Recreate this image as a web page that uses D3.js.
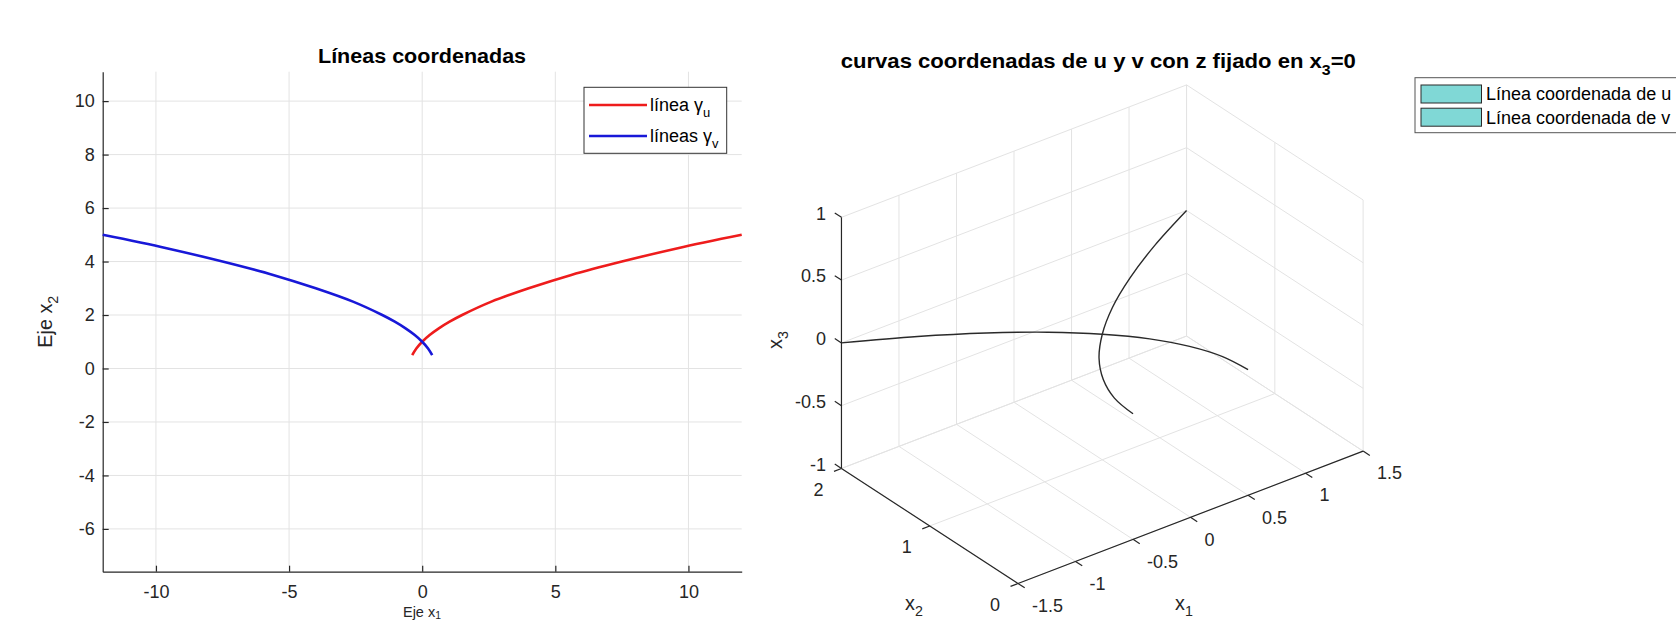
<!DOCTYPE html>
<html><head><meta charset="utf-8">
<script src="https://cdn.jsdelivr.net/npm/d3@7"></script>
<style>
body{margin:0;background:#fff}
svg{display:block}
text{font-family:'Liberation Sans',Arial,Helvetica,sans-serif}
</style>
</head><body>
<script>
// ---------- data ----------
const xLim2d = [-12, 12];
const yLim2d = [-7.6, 11.1];
const xTicks2d = [-10, -5, 0, 5, 10];
const yTicks2d = [-6, -4, -2, 0, 2, 4, 6, 8, 10];
// línea γu (red): [x, x2]
const lineU = [[-0.375,0.5],[-0.22,0.75],[0,1],[0.28,1.25],[0.625,1.5],[1.03,1.75],[1.5,2],[2.6,2.5],[4,3],[5.6,3.5],[7.5,4],[9.6,4.5],[12,5]];
// líneas γv (blue)
const lineV = [[0.375,0.5],[0.22,0.75],[0,1],[-0.28,1.25],[-0.625,1.5],[-1.03,1.75],[-1.5,2],[-2.6,2.5],[-4,3],[-5.6,3.5],[-7.5,4],[-9.6,4.5],[-12,5]];
const legend2dText = ["línea γ", "líneas γ"];
const legend2dSub = ["u", "v"];

const x1Lim = [-1.5, 1.5], x2Lim = [0, 2], x3Lim = [-1, 1];
const x1Ticks = [-1.5, -1, -0.5, 0, 0.5, 1, 1.5];
const x1TickLabels = ["-1.5", "-1", "-0.5", "0", "0.5", "1", "1.5"];
const x2Ticks = [0, 1, 2];
const x2TickLabels = ["0", "1", "2"];
const x3Ticks = [-1, -0.5, 0, 0.5, 1];
const x3TickLabels = ["-1", "-0.5", "0", "0.5", "1"];
// 3D coordinate curves [x1, x2, x3]
const curveU3 = [[-0.5,0,0],[-0.47,0.25,0],[-0.375,0.5,0],[-0.22,0.75,0],[0,1,0],[0.28,1.25,0],[0.625,1.5,0],[1.03,1.75,0],[1.5,2,0]];
const curveV3 = [[0.5,0,0],[0.47,0.25,0],[0.375,0.5,0],[0.22,0.75,0],[0,1,0],[-0.28,1.25,0],[-0.625,1.5,0],[-1.03,1.75,0],[-1.5,2,0]];
const legend3dText = ["Línea coordenada de u", "Línea coordenada de v"];

// ---------- drawing ----------
const W = 1676, H = 621;
const AX = "#262626", GRID = "#e3e3e3";
const svg = d3.select("body").append("svg").attr("width", W).attr("height", H);

function subText(g, x, y, main, sub, fs, opts = {}) {
  const t = g.append("text").attr("x", x).attr("y", y)
    .attr("font-size", fs).attr("fill", opts.fill || AX)
    .attr("text-anchor", opts.anchor || "start");
  if (opts.weight) t.attr("font-weight", opts.weight);
  if (opts.rotate) t.attr("transform", `rotate(${opts.rotate},${x},${y})`);
  t.append("tspan").text(main);
  if (sub) {
    const sh = opts.subShift != null ? opts.subShift : fs * 0.32;
    t.append("tspan").attr("font-size", fs * 0.72).attr("dy", sh).text(sub);
    if (opts.after) t.append("tspan").attr("dy", -sh).text(opts.after);
  }
  return t;
}
function fitWidth(t, x0, width) {
  const w = t.node().getBBox().width;
  const k = width / w;
  const prev = t.attr("transform") || "";
  t.attr("transform", `translate(${x0},0) scale(${k},1) translate(${-x0},0) ${prev}`);
}

// ===== Left 2D plot =====
const xL = d3.scaleLinear().domain(xLim2d).range([102.7, 741.7]);
const yL = d3.scaleLinear().domain(yLim2d).range([571.7, 71.7]);
const gL = svg.append("g");

gL.append("g").selectAll("line").data(xTicks2d).join("line")
  .attr("x1", d => xL(d)).attr("x2", d => xL(d))
  .attr("y1", yL(yLim2d[0])).attr("y2", yL(yLim2d[1]))
  .attr("stroke", GRID).attr("stroke-width", 1);
gL.append("g").selectAll("line").data(yTicks2d).join("line")
  .attr("y1", d => yL(d)).attr("y2", d => yL(d))
  .attr("x1", xL(xLim2d[0])).attr("x2", xL(xLim2d[1]))
  .attr("stroke", GRID).attr("stroke-width", 1);

const axB = gL.append("g").attr("transform", `translate(0,${yL(yLim2d[0])})`)
  .call(d3.axisBottom(xL).tickValues(xTicks2d).tickFormat(d => String(d))
    .tickSizeInner(-6).tickSizeOuter(0).tickPadding(14));
const axLft = gL.append("g").attr("transform", `translate(${xL(xLim2d[0])},0)`)
  .call(d3.axisLeft(yL).tickValues(yTicks2d).tickFormat(d => String(d))
    .tickSizeInner(-6).tickSizeOuter(0).tickPadding(8));
[axB, axLft].forEach(a => {
  a.select(".domain").attr("stroke", AX).attr("stroke-width", 1.2);
  a.selectAll(".tick line").attr("stroke", AX).attr("stroke-width", 1.2);
  a.selectAll(".tick text").attr("fill", AX).attr("font-size", 18)
    .attr("font-family", "'Liberation Sans',Arial,sans-serif");
});

const line2d = d3.line().x(d => xL(d[0])).y(d => yL(d[1])).curve(d3.curveCatmullRom);
gL.append("path").attr("d", line2d(lineU)).attr("fill", "none").attr("stroke", "#ee1c1c").attr("stroke-width", 2.6);
gL.append("path").attr("d", line2d(lineV)).attr("fill", "none").attr("stroke", "#1818d8").attr("stroke-width", 2.6);

// title & labels
const t1 = gL.append("text").attr("x", 318).attr("y", 63.4).attr("font-size", 19.8)
  .attr("font-weight", "bold").attr("fill", "#000").text("Líneas coordenadas");
fitWidth(t1, 318, 208);
subText(gL, 52, 321.7, "Eje x", "2", 19.8, {anchor: "middle", rotate: -90});
subText(gL, 422, 617, "Eje x", "1", 14.5, {anchor: "middle", subShift: 1.5});

// legend
const lg = gL.append("g");
lg.append("rect").attr("x", 584).attr("y", 87.3).attr("width", 142.7).attr("height", 66)
  .attr("fill", "#fff").attr("stroke", "#333").attr("stroke-width", 1);
const legColors = ["#ee1c1c", "#1818d8"];
legend2dText.forEach((txt, i) => {
  const yy = 105 + i * 31;
  lg.append("line").attr("x1", 589).attr("x2", 647).attr("y1", yy).attr("y2", yy)
    .attr("stroke", legColors[i]).attr("stroke-width", 2.6);
  subText(lg, 650, yy + 6, txt, legend2dSub[i], 18, {fill: "#000"});
});

// ===== Right 3D plot =====
const AZ = -37.5 * Math.PI / 180, EL = 30 * Math.PI / 180;
const S = 145, O = [1018, 583.5];
const s1 = d3.scaleLinear().domain(x1Lim).range([0, (x1Lim[1] - x1Lim[0]) * S]);
const s2 = d3.scaleLinear().domain(x2Lim).range([0, (x2Lim[1] - x2Lim[0]) * S]);
const s3 = d3.scaleLinear().domain(x3Lim).range([0, (x3Lim[1] - x3Lim[0]) * S]);
function P(a, b, c) {
  const u = s1(a), v = s2(b), w = s3(c);
  const X = Math.cos(AZ) * u + Math.sin(AZ) * v;
  const Yup = -Math.sin(EL) * Math.sin(AZ) * u + Math.sin(EL) * Math.cos(AZ) * v + Math.cos(EL) * w;
  return [O[0] + X, O[1] - Yup];
}
const g3 = svg.append("g");
function seg(g, p, q, color, w) {
  const A = P(...p), B = P(...q);
  g.append("line").attr("x1", A[0]).attr("y1", A[1]).attr("x2", B[0]).attr("y2", B[1])
    .attr("stroke", color).attr("stroke-width", w).attr("stroke-linecap", "butt");
}
const [a0, a1] = x1Lim, [b0, b1] = x2Lim, [c0, c1] = x3Lim;
const gg = g3.append("g");
// floor z = min
x1Ticks.forEach(t => seg(gg, [t, b0, c0], [t, b1, c0], GRID, 1));
x2Ticks.forEach(t => seg(gg, [a0, t, c0], [a1, t, c0], GRID, 1));
// back wall x2 = max
x1Ticks.forEach(t => seg(gg, [t, b1, c0], [t, b1, c1], GRID, 1));
x3Ticks.forEach(t => seg(gg, [a0, b1, t], [a1, b1, t], GRID, 1));
// side wall x1 = max
x2Ticks.forEach(t => seg(gg, [a1, t, c0], [a1, t, c1], GRID, 1));
x3Ticks.forEach(t => seg(gg, [a1, b0, t], [a1, b1, t], GRID, 1));

// axes lines
seg(g3, [a0, b0, c0], [a1, b0, c0], AX, 1.2);
seg(g3, [a0, b0, c0], [a0, b1, c0], AX, 1.2);
seg(g3, [a0, b1, c0], [a0, b1, c1], AX, 1.2);

function unitDir(p, q) {
  const A = P(...p), B = P(...q);
  const dx = B[0] - A[0], dy = B[1] - A[1], L = Math.hypot(dx, dy);
  return [dx / L, dy / L];
}
const TL = 8;
const dX1 = unitDir([0, b1, c0], [0, b0, c0]);   // outward -x2
const dX2 = unitDir([a1, 1, c0], [a0, 1, c0]);   // outward -x1
const dX3 = unitDir([a0, b0, 0], [a0, b1, 0]);   // outward +x2
function tick(p, d) {
  const A = P(...p);
  g3.append("line").attr("x1", A[0]).attr("y1", A[1])
    .attr("x2", A[0] + d[0] * TL).attr("y2", A[1] + d[1] * TL)
    .attr("stroke", AX).attr("stroke-width", 1.2);
}
x1Ticks.forEach((t, i) => {
  tick([t, b0, c0], dX1);
  const A = P(t, b0, c0);
  g3.append("text").attr("x", A[0] + 14).attr("y", A[1] + 22).attr("dy", "0.35em")
    .attr("font-size", 18).attr("fill", AX).text(x1TickLabels[i]);
});
x2Ticks.forEach((t, i) => {
  tick([a0, t, c0], dX2);
  const A = P(a0, t, c0);
  g3.append("text").attr("x", A[0] - 18).attr("y", A[1] + 21).attr("dy", "0.35em")
    .attr("text-anchor", "end").attr("font-size", 18).attr("fill", AX).text(x2TickLabels[i]);
});
x3Ticks.forEach((t, i) => {
  tick([a0, b1, t], dX3);
  const A = P(a0, b1, t);
  g3.append("text").attr("x", A[0] - 15.5).attr("y", A[1] - 4).attr("dy", "0.35em")
    .attr("text-anchor", "end").attr("font-size", 18).attr("fill", AX).text(x3TickLabels[i]);
});

// curves
const line3 = d3.line().x(d => P(...d)[0]).y(d => P(...d)[1]).curve(d3.curveCatmullRom);
g3.append("path").attr("d", line3(curveV3)).attr("fill", "none").attr("stroke", "#2a2a2a").attr("stroke-width", 1.4);
g3.append("path").attr("d", line3(curveU3)).attr("fill", "none").attr("stroke", "#2a2a2a").attr("stroke-width", 1.4);

// axis labels
subText(g3, 782, 340, "x", "3", 19.8, {anchor: "middle", rotate: -90});
subText(g3, 914, 610, "x", "2", 19.8, {anchor: "middle"});
subText(g3, 1184, 610, "x", "1", 19.8, {anchor: "middle"});

// title
const t2 = subText(g3, 840.7, 68.3, "curvas coordenadas de u y v con z fijado en x", "3", 19.8,
  {fill: "#000", weight: "bold", after: "=0"});
fitWidth(t2, 840.7, 515);

// legend
const lg3 = svg.append("g");
lg3.append("rect").attr("x", 1415).attr("y", 77.7).attr("width", 300).attr("height", 55)
  .attr("fill", "#fff").attr("stroke", "#555").attr("stroke-width", 1);
legend3dText.forEach((txt, i) => {
  const y0 = 85 + i * 23.2;
  lg3.append("rect").attr("x", 1421).attr("y", y0).attr("width", 60.5).attr("height", 18)
    .attr("fill", "#80d8d6").attr("stroke", "#2a2a2a").attr("stroke-width", 1);
  lg3.append("text").attr("x", 1486).attr("y", y0 + 9).attr("dy", "0.35em")
    .attr("font-size", 18).attr("fill", "#000").text(txt);
});
</script>
</body></html>
